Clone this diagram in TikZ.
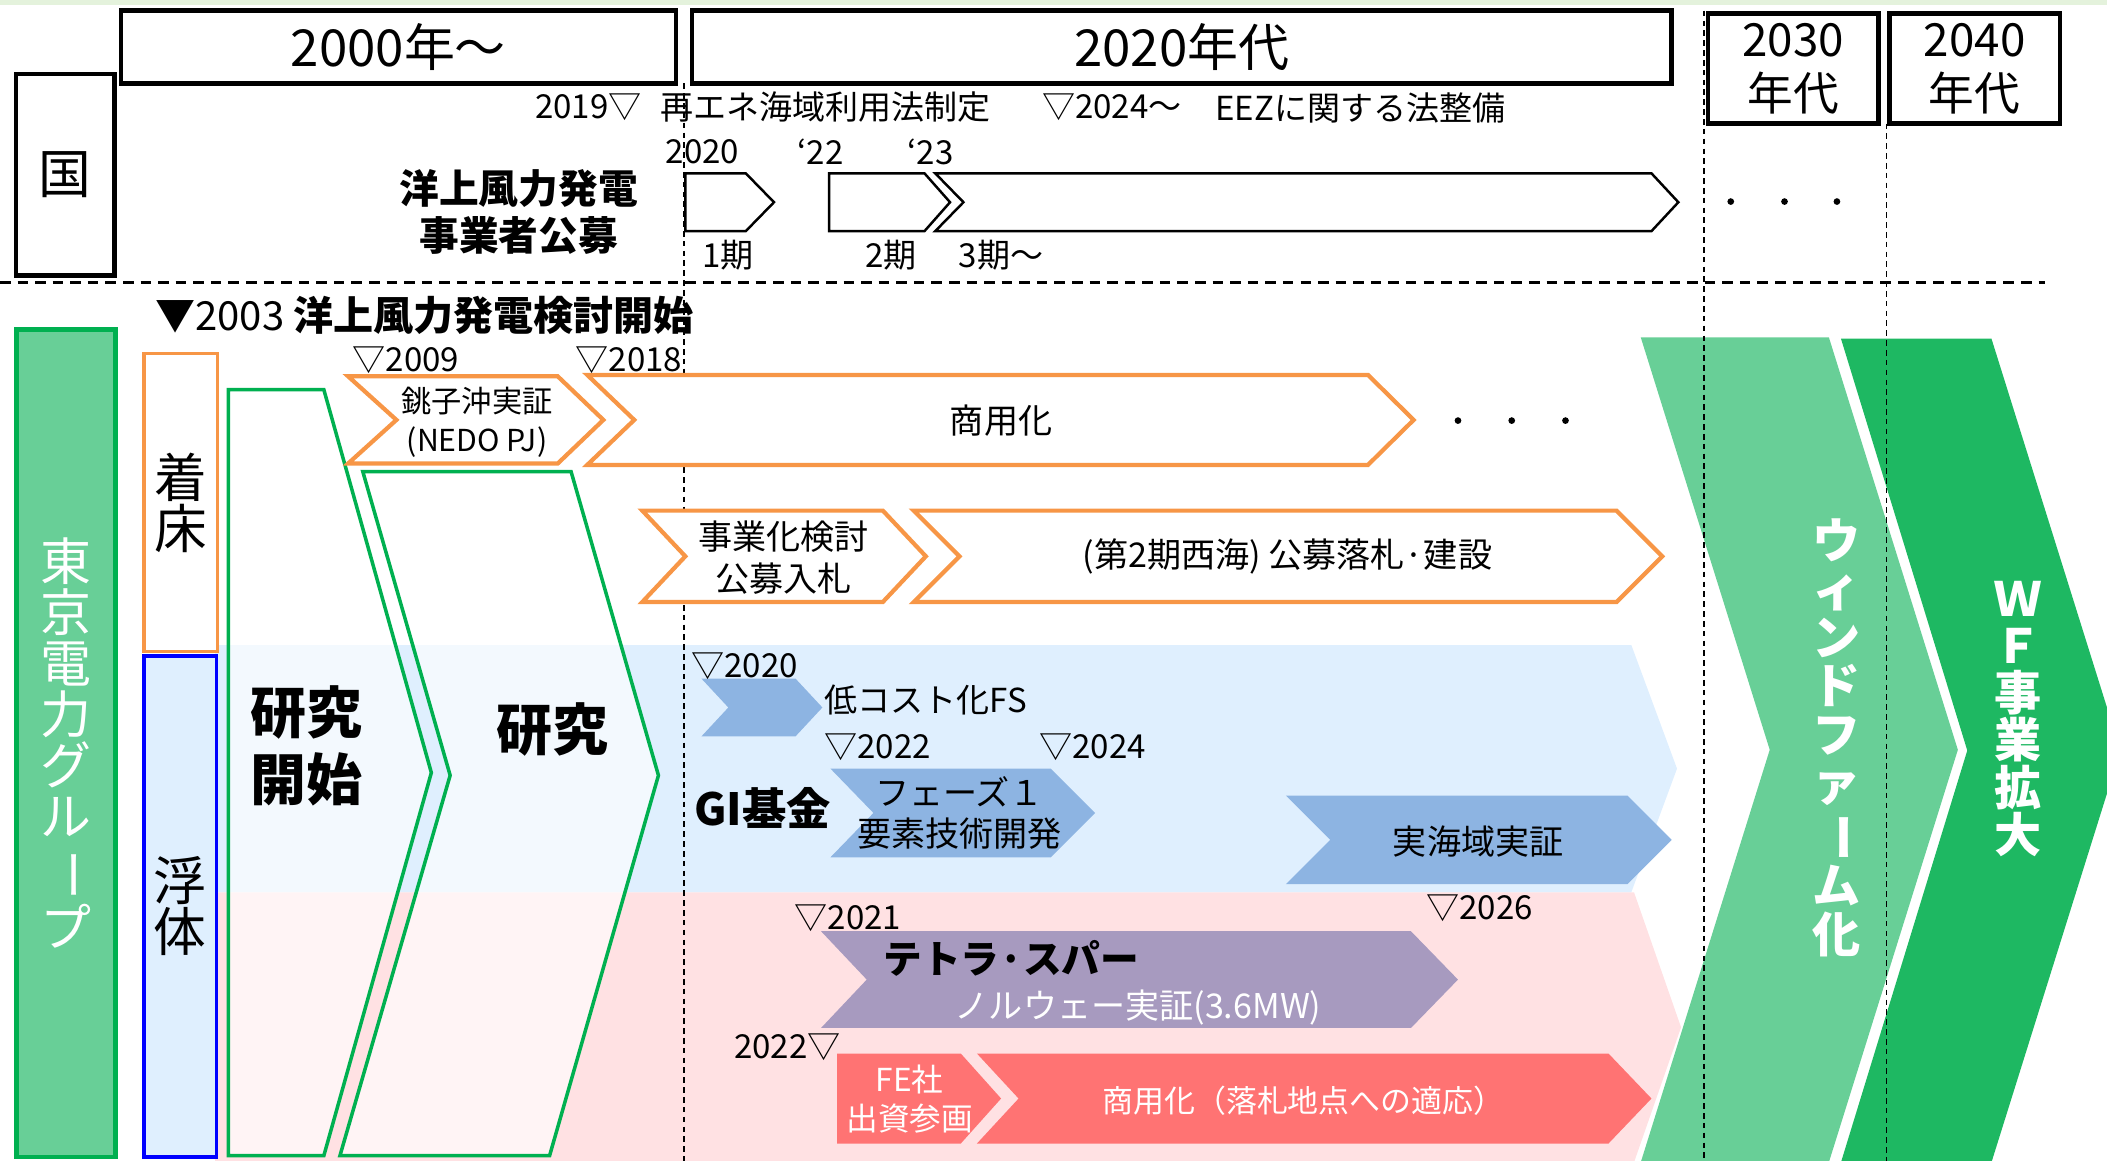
\documentclass[tikz,border=0pt]{standalone}
\usepackage{fontspec}
\setmainfont{Noto Sans CJK JP}
\usetikzlibrary{positioning}

\definecolor{orangeline}{HTML}{F79646}
\definecolor{greenline}{HTML}{00B050}
\definecolor{bandblue}{HTML}{DFEFFE}
\definecolor{bandpink}{HTML}{FFE1E3}
\definecolor{chevblue}{HTML}{8DB4E2}
\definecolor{chevpurple}{HTML}{A79ABF}
\definecolor{chevred}{HTML}{FF7373}
\definecolor{lightgreen}{HTML}{68CF97}
\definecolor{darkgreen}{HTML}{1EB862}
\definecolor{topstrip}{HTML}{E4F2DC}

\newlength\unitpx
\setlength\unitpx{0.13437mm}
\newcommand{\setsz}[2]{\fontsize{#1pt}{#2pt}\selectfont}
% chevron: [style]{left}{right}{top}{bottom}{notch}{tip}
\newcommand{\chevshape}[7][]{%
  \path[#1] (#2,#4) -- (#3,#4) -- ({#3+#7},{(#4+#5)/2}) -- (#3,#5) -- (#2,#5) -- ({#2+#6},{(#4+#5)/2}) -- cycle;}

\tikzset{
  hdrbox/.style={draw=black,line width=1.3pt,fill=white},
  stagearrow/.style={draw=black,line width=0.7pt,fill=white},
  orangechev/.style={draw=orangeline,line width=1.2pt,fill=white},
  researchchev/.style={draw=greenline,line width=1pt,fill=white,fill opacity=0.65},
  bluechev/.style={fill=chevblue},
  purplechev/.style={fill=chevpurple},
  redchev/.style={fill=chevred},
  vdash/.style={line width=0.4pt,dash pattern=on 1.6pt off 1.2pt},
  hdash/.style={line width=0.8pt,dash pattern=on 3pt off 2pt},
  lbl/.style={font=\setsz{9.4}{9.4}},
  chevtxt/.style={font=\setsz{9.7}{9.7},align=center},
}

\begin{document}
\begin{tikzpicture}[x=0.13437mm,y=-0.13437mm,every node/.style={inner sep=0pt}]
\useasboundingbox (0,0) rectangle (1568,864);
\fill[topstrip] (0,0) rectangle (1568,4);

% background bands
\chevshape[fill=bandblue]{160}{1214}{480}{664}{0}{34}
\chevshape[fill=bandpink]{160}{1216}{664}{865}{0}{35}

% wind farm chevrons
\chevshape[fill=lightgreen]{1221}{1361}{251}{865}{96}{96}
\chevshape[fill=darkgreen]{1370}{1482}{252}{865}{94}{96}

% year guides
\draw[vdash] (509,62) -- (509,864);
\draw[vdash] (1268,8) -- (1268,864);
\draw[vdash] (1404,92) -- (1404,864);
\draw[hdash] (0,210) -- (1522,210);

% header
\node[hdrbox,minimum width=413*\unitpx,minimum height=54*\unitpx,font=\setsz{14.5}{14.5}] (h2000) at (296.5,35) {2000年〜};
\node[hdrbox,minimum width=729*\unitpx,minimum height=54*\unitpx,font=\setsz{14.5}{14.5}] (h2020) at (879.5,35) {2020年代};
\node[hdrbox,minimum width=127*\unitpx,minimum height=82*\unitpx,font=\setsz{13}{15.3},align=center] (h2030) at (1334.5,51) {2030\\年代};
\node[hdrbox,minimum width=127*\unitpx,minimum height=82*\unitpx,font=\setsz{13}{15.3},align=center] (h2040) at (1469.5,51) {2040\\年代};
\node[hdrbox,minimum width=73*\unitpx,minimum height=150*\unitpx,font=\setsz{15}{15}] (kuni) at (48.5,130) {国};

% national
\node[lbl,anchor=east] (y2019) at (478,80) {2019▽};
\node[lbl,right=1.7mm of y2019] (law) {再エネ海域利用法制定};
\node[lbl,anchor=west] (y2024law) at (775,80) {▽2024〜};
\node[lbl,anchor=west] (eez) at (904,80) {EEZに関する法整備};
\node[lbl,anchor=west] (p2020) at (495,113) {2020};
\node[lbl,anchor=west] (p22) at (593,113) {‘22};
\node[lbl,anchor=west] (p23) at (675,113) {‘23};
\chevshape[stagearrow]{510}{555}{129}{172}{0}{21}
\chevshape[stagearrow]{617}{688}{129}{172}{0}{19}
\chevshape[stagearrow]{696}{1229}{129}{172}{21}{20}
\node[lbl] (ki1) at (542,190) {1期};
\node[lbl] (ki2) at (663,190) {2期};
\node[lbl,anchor=west] (ki3) at (713,190) {3期〜};
\node[font=\setsz{11.3}{13.4}\bfseries,align=center] (koubo) at (386,158) {洋上風力発電\\事業者公募};
\foreach \dx in {1288,1328,1367} \fill (\dx,150) circle (2.5);

% TEPCO group
\node[font=\setsz{11.4}{11.4},anchor=west] (kentou) at (115,235) {▼2003 \textbf{洋上風力発電検討開始}};
\node[draw=greenline,line width=1.4pt,fill=lightgreen,minimum width=74*\unitpx,minimum height=616*\unitpx,text=white,font=\setsz{14.5}{14.5},align=center] (tepco) at (49,553) {東\\京\\電\\力\\グ\\ル\\\rotatebox[origin=c]{-90}{ー}\\プ};
\node[draw=orangeline,line width=1pt,fill=white,minimum width=55*\unitpx,minimum height=222*\unitpx,font=\setsz{15}{14.5},align=center] (chakusho) at (134.5,374) {着\\床};
\node[draw=blue,line width=1pt,fill=bandblue,minimum width=54*\unitpx,minimum height=373*\unitpx,font=\setsz{15}{14.5},align=center] (futai) at (134,674.5) {浮\\体};

% research
\chevshape[researchchev]{170}{241}{290}{860}{0}{80}
\path[researchchev] (270,351) -- (425,351) -- (490,577) -- (409,860) -- (253,860) -- (335,577) -- cycle;
\node[font=\setsz{15.9}{19}\bfseries,align=center] (kaishi) at (228,555) {研究\\開始};
\node[font=\setsz{15.9}{15.9}\bfseries] (kenkyu) at (411,543) {研究};

% fixed-bottom
\chevshape[orangechev]{259}{415}{280}{345}{36}{34}
\chevshape[orangechev]{437}{1018}{279}{346}{35}{34}
\chevshape[orangechev]{478}{657}{380}{448}{32}{32}
\chevshape[orangechev]{680}{1203}{380}{448}{34}{34}
\node[lbl,anchor=west] (y2009) at (262,268) {▽2009};
\node[lbl,anchor=west] (y2018) at (428,268) {▽2018};
\node[font=\setsz{8.6}{11},align=center] (choshi) at (355,314) {銚子沖実証\\(NEDO PJ)};
\node[chevtxt] (shoyo) at (745,313) {商用化};
\foreach \dx in {1085,1125,1165} \fill (\dx,313) circle (2.5);
\node[chevtxt,font=\setsz{9.7}{11.9}] (jigyoka) at (583,415) {事業化検討\\公募入札};
\node[chevtxt] (seikai) at (958,414) {(第2期西海) 公募落札·建設};

% floating: GI fund
\chevshape[bluechev]{522}{592}{505}{548}{20}{20}
\chevshape[bluechev]{618}{782}{572}{638}{32}{33}
\chevshape[bluechev]{957}{1211}{592}{658}{33}{33}
\node[lbl,anchor=west] (y2020) at (514,496) {▽2020};
\node[lbl,anchor=west] (lowcost) at (613,521) {低コスト化FS};
\node[lbl,anchor=west] (y2022) at (613,556) {▽2022};
\node[lbl,anchor=west] (y2024) at (773,556) {▽2024};
\node[font=\setsz{12.6}{12.6}\bfseries,anchor=west] (gi) at (516,601) {GI基金};
\node[chevtxt,font=\setsz{9.7}{11.5}] (phase) at (714,605) {フェーズ１\\要素技術開発};
\node[chevtxt] (jikaiiki) at (1100,626) {実海域実証};
\node[lbl,anchor=west] (y2026) at (1061,676) {▽2026};

% floating: TetraSpar
\chevshape[purplechev]{611}{1050}{693}{765}{34}{35}
\chevshape[redchev]{623}{715}{784}{851}{0}{30}
\chevshape[redchev]{727}{1197}{784}{851}{31}{32}
\node[lbl,anchor=west] (y2021) at (591,683) {▽2021};
\node[font=\setsz{11}{11}\bfseries,anchor=west] (tetra) at (657,713) {テトラ·スパー};
\node[chevtxt,text=white] (norway) at (847,750) {ノルウェー実証(3.6MW)};
\node[lbl,anchor=east] (y2022b) at (626,779) {2022▽};
\node[font=\setsz{9}{11},align=center,text=white] (fe) at (677,818) {FE社\\出資参画};
\node[chevtxt,text=white,font=\setsz{8.8}{8.8}] (shoyo2) at (970,819) {商用化（落札地点への適応）};

% wind farm
\node[text=white,font=\setsz{13.7}{13.8}\bfseries,align=center] (windfarm) at (1367,549) {ウ\\ィ\\ン\\ド\\フ\\ァ\\\rotatebox[origin=c]{-90}{ー}\\ム\\化};
\node[text=white,font=\setsz{13.4}{13.4}\bfseries,align=center] (wfexp) at (1502,535) {Ｗ\\Ｆ\\事\\業\\拡\\大};
\end{tikzpicture}
\end{document}
